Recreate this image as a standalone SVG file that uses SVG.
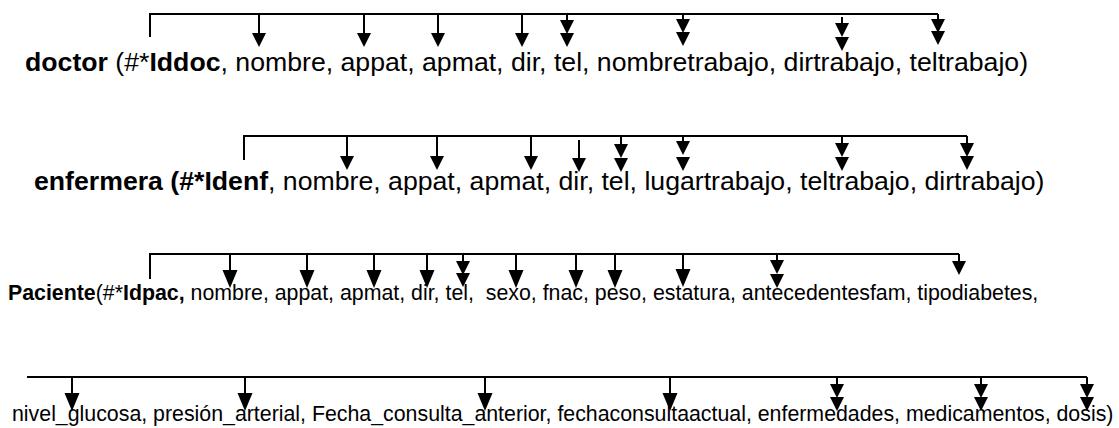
<svg xmlns="http://www.w3.org/2000/svg" width="1119" height="428" viewBox="0 0 1119 428">
<style>
.t{font-family:"Liberation Sans",Arial,sans-serif;fill:#000;white-space:pre}
.b{font-weight:bold}
.ln{stroke:#000;stroke-width:2;fill:none}
.ah{fill:#000}
</style>
<defs>
<path id="a1" d="M-7,-14 L7,-14 L0,0 Z"/>
<path id="a2" d="M-7.5,-18 L7.5,-18 L0,0 Z"/>
</defs>
<rect width="1119" height="428" fill="#fff"/>
<g id="connectors">
<path class="ln" d="M150,37 V14 H938"/>
<path class="ln" d="M259,14 V36 M364,14 V36 M438,14 V36 M522,14 V36 M567,14 V24 M683,14 V24 M842,17 V26 M938,14 V24"/>
<g class="ah">
<use href="#a1" x="259" y="47"/><use href="#a1" x="364" y="47"/><use href="#a1" x="438" y="47"/><use href="#a1" x="522" y="47"/>
<use href="#a1" x="567" y="34"/><use href="#a1" x="567" y="47"/>
<use href="#a1" x="683" y="33"/><use href="#a1" x="683" y="46"/>
<use href="#a1" x="842" y="37"/><use href="#a1" x="842" y="51"/>
<use href="#a1" x="938" y="33"/><use href="#a1" x="938" y="45"/>
</g>
<path class="ln" d="M244,160 V136 H967"/>
<path class="ln" d="M347,136 V160 M437,136 V160 M531,136 V160 M579,140 V162 M621,136 V150 M683,136 V146 M842,136 V147 M967,136 V147"/>
<g class="ah">
<use href="#a1" x="347" y="170"/><use href="#a1" x="437" y="170"/><use href="#a1" x="531" y="170"/><use href="#a1" x="579" y="172"/>
<use href="#a1" x="621" y="158"/><use href="#a1" x="621" y="172"/>
<use href="#a1" x="683" y="155"/><use href="#a1" x="683" y="171"/>
<use href="#a1" x="842" y="157"/><use href="#a1" x="842" y="171"/>
<use href="#a1" x="967" y="157"/><use href="#a1" x="967" y="170"/>
</g>
<path class="ln" d="M150,279 V254 H959"/>
<path class="ln" d="M230,254 V275 M307,254 V275 M374,254 V275 M427,254 V275 M463,254 V265 M516,254 V275 M576,254 V275 M615,254 V275 M683,254 V275 M777,254 V262 M959,254 V262"/>
<g class="ah">
<use href="#a2" x="230" y="288"/><use href="#a2" x="307" y="288"/><use href="#a2" x="374" y="288"/><use href="#a2" x="427" y="288"/>
<use href="#a1" x="463" y="275"/><use href="#a1" x="463" y="287"/>
<use href="#a2" x="516" y="288"/><use href="#a2" x="576" y="288"/><use href="#a2" x="615" y="288"/><use href="#a2" x="683" y="287"/>
<use href="#a1" x="777" y="274"/><use href="#a1" x="777" y="288"/>
<use href="#a1" x="959" y="275"/>
</g>
<path class="ln" d="M27,377 H1087"/>
<path class="ln" d="M72,377 V398 M245,377 V398 M485,377 V398 M670,377 V398 M837,377 V388 M981,377 V388 M1087,377 V388"/>
<g class="ah">
<use href="#a2" x="72" y="411"/><use href="#a2" x="245" y="411"/><use href="#a2" x="485" y="411"/><use href="#a2" x="670" y="411"/>
<use href="#a1" x="837" y="398"/><use href="#a1" x="837" y="411"/>
<use href="#a1" x="981" y="398"/><use href="#a1" x="981" y="411"/>
<use href="#a1" x="1087" y="398"/><use href="#a1" x="1087" y="411"/>
</g>
</g>
<g id="doctor">
<text class="t" x="25" y="71" font-size="26.67"><tspan class="b">doctor</tspan> (#*<tspan class="b">Iddoc</tspan>, nombre, appat, apmat, dir, tel, nombretrabajo, dirtrabajo, teltrabajo)</text>
</g>
<g id="enfermera">
<text class="t" x="34" y="190" font-size="26.67"><tspan class="b">enfermera (#*Idenf</tspan>, nombre, appat, apmat, dir, tel, lugartrabajo, teltrabajo, dirtrabajo)</text>
</g>
<g id="paciente">
<text class="t" x="8" y="300" font-size="21.33"><tspan class="b">Paciente</tspan>(#*<tspan class="b">Idpac,</tspan> nombre, appat, apmat, dir, tel,  sexo, fnac, peso, estatura, antecedentesfam, tipodiabetes,</text>
</g>
<g id="paciente-cont">
<text class="t" x="12" y="421" font-size="21.33">nivel_glucosa, presión_arterial, Fecha_consulta_anterior, fechaconsultaactual, enfermedades, medicamentos, dosis)</text>
</g>
</svg>
